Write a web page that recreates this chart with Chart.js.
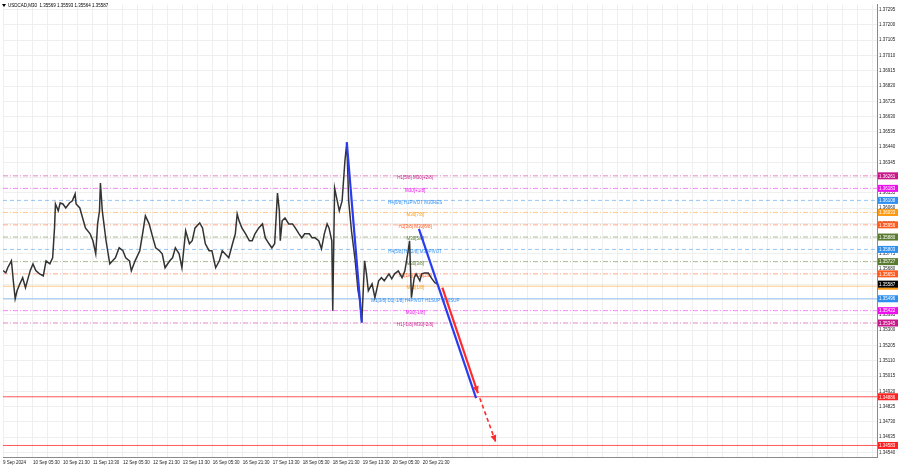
<!DOCTYPE html>
<html>
<head>
<meta charset="utf-8">
<title>USDCAD,M30</title>
<script src="https://cdn.jsdelivr.net/npm/chart.js@4.4.1/dist/chart.umd.min.js"></script>
<style>
    html, body { margin: 0; padding: 0; background: #fff; }
</style>
</head>
<body>
<canvas id="chart" width="900" height="468"></canvas>
<script>
// ============================================================
// DATA
// ============================================================

const symbolTitle = "USDCAD,M30  1.35569 1.35593 1.35564 1.35587";

// bar number (M30 bars from the left edge) and close price
const barIndex = [0, 3, 5, 9, 11, 13, 15, 18, 21, 24, 29, 32, 35, 39, 43, 46, 50, 53, 55, 56,
    59, 61, 64, 67, 71, 74, 77, 78, 82, 85, 88, 93, 96, 99, 101, 103, 104, 106, 110, 114,
    117, 120, 124, 128, 131, 135, 137, 141, 146, 149, 152, 156, 160, 163, 167, 170, 173, 178, 181, 184,
    188, 191, 195, 199, 202, 205, 210, 213, 216, 220, 223, 227, 231, 234, 237, 241, 245, 248, 250, 252,
    255, 259, 263, 266, 269, 273, 277, 280, 284, 287, 290, 293, 295, 296, 298, 301, 305, 309, 312, 316,
    319, 322, 327, 330, 333, 337, 340, 343, 346, 348, 351, 352, 354, 359, 362, 365, 367, 369, 372, 376,
    379, 381, 383, 386, 388, 390, 394, 397, 401, 404, 407, 412, 415, 418, 422, 426, 429, 432, 434, 436,
    439, 441, 445, 447, 450, 454, 457, 461, 464];

const closePrices = [1.35671, 1.35657, 1.35689, 1.35732, 1.35608, 1.35496, 1.35546, 1.35589, 1.35627, 1.35565,
    1.35671, 1.35713, 1.35671, 1.35651, 1.35639, 1.35732, 1.35713, 1.35751, 1.35937, 1.36086,
    1.36043, 1.36092, 1.36086, 1.36061, 1.36092, 1.36105, 1.36148, 1.36086, 1.36061, 1.35999,
    1.35937, 1.35900, 1.35857, 1.35776, 1.35962, 1.36043, 1.36216, 1.36043, 1.35857, 1.35713,
    1.35732, 1.35751, 1.35813, 1.35795, 1.35751, 1.35732, 1.35670, 1.35732, 1.35795, 1.35900,
    1.36012, 1.35962, 1.35875, 1.35813, 1.35795, 1.35776, 1.35689, 1.35732, 1.35751, 1.35813,
    1.35776, 1.35689, 1.35919, 1.35838, 1.35857, 1.35937, 1.35968, 1.35937, 1.35838, 1.35795,
    1.35795, 1.35689, 1.35732, 1.35795, 1.35776, 1.35751, 1.35838, 1.35900, 1.36024, 1.35981,
    1.35937, 1.35900, 1.35857, 1.35857, 1.35900, 1.35937, 1.35962, 1.35875, 1.35838, 1.35813,
    1.35838, 1.36154, 1.36043, 1.35857, 1.35981, 1.35999, 1.35962, 1.35962, 1.35937, 1.35900,
    1.35875, 1.35900, 1.35900, 1.35875, 1.35875, 1.35857, 1.35807, 1.35900, 1.35962, 1.35937,
    1.35857, 1.35422, 1.36185, 1.36043, 1.36105, 1.36353, 1.36470, 1.36105, 1.35919, 1.35732,
    1.35546, 1.35484, 1.35348, 1.35732, 1.35651, 1.35546, 1.35589, 1.35503, 1.35608, 1.35627,
    1.35608, 1.35651, 1.35620, 1.35651, 1.35670, 1.35627, 1.35670, 1.35776, 1.35857, 1.35503,
    1.35627, 1.35651, 1.35608, 1.35651, 1.35657, 1.35657, 1.35627, 1.35596, 1.35587];

// time axis
const timeTickBars = [0, 32, 64, 96, 128, 160, 192, 224, 256, 288, 320, 352, 384, 416, 448];
const timeTickLabels = ["9 Sep 2024", "10 Sep 05:30", "10 Sep 21:30", "11 Sep 13:30", "12 Sep 05:30",
    "12 Sep 21:30", "13 Sep 13:30", "16 Sep 05:30", "16 Sep 21:30", "17 Sep 13:30",
    "18 Sep 05:30", "18 Sep 21:30", "19 Sep 13:30", "20 Sep 05:30", "20 Sep 21:30"];

// price axis
const priceTicks = [1.34540, 1.34635, 1.34730, 1.34825, 1.34920, 1.35015, 1.35110, 1.35205, 1.35300, 1.35395,
    1.35490, 1.35585, 1.35680, 1.35775, 1.35870, 1.35965, 1.36060, 1.36155, 1.36250, 1.36345,
    1.36440, 1.36535, 1.36630, 1.36725, 1.36820, 1.36915, 1.37010, 1.37105, 1.37200, 1.37295];

// Murrey levels
const levelPrices = [1.36261, 1.36183, 1.36108, 1.36033, 1.35956, 1.35880, 1.35803,
    1.35727, 1.35651, 1.35574, 1.35496, 1.35422, 1.35345];
const levelNames = ["H1[5/8] M30[+2/8]", "M30[+1/8]", "H4[6/8] H1PIVOT M30RES", "M30[7/8]",
    "H1[3/8] M30[6/8]", "M30[5/8]", "H4[5/8] H1[2/8] M30PIVOT", "M30[3/8]",
    "H1[1/8] M30[2/8]", "M30[1/8]", "W1[3/8] D1[-1/8] H4PIVOT H1SUP M30SUP",
    "M30[-1/8]", "H1[-1/8] M30[-2/8]"];

const targetPrices = [1.34886, 1.34583];
const bidPrice = 1.35587;

// drawn trend / forecast lines
const swingBars = [367, 383];
const swingPrices = [1.36470, 1.35348];
const forecastBars = [444, 505];
const forecastPrices = [1.35931, 1.34877];
const targetLineBars = [469, 507];
const targetLinePrices = [1.35565, 1.34908];
const targetDashBars = [509, 526];
const targetDashPrices = [1.34877, 1.34604];

// ============================================================
// STYLE
// ============================================================

const levelColors = ["#c8178a", "#ee10ee", "#2f8fef", "#ff9a10", "#ff5a1e", "#5a7a30", "#2f8fef",
    "#5a7a30", "#ff5a1e", "#ff9a10", "#2f8fef", "#ee10ee", "#c8178a"];
const DASH_DOT = [5, 2, 1, 2];
const DASHED = [4, 3];
const levelDash = [DASH_DOT, DASH_DOT, DASHED, DASH_DOT, DASH_DOT, DASH_DOT, DASHED,
    DASH_DOT, DASH_DOT, [], [], DASH_DOT, DASH_DOT];

const X_MIN = 0, X_MAX = 933;
const Y_MIN = 1.345112, Y_MAX = 1.37326;
const LABEL_BAR = 440;      // where the level captions sit
const FONT = '"Liberation Sans", Arial, sans-serif';

function fade(hex, a) {
    const r = parseInt(hex.substr(1, 2), 16);
    const g = parseInt(hex.substr(3, 2), 16);
    const b = parseInt(hex.substr(5, 2), 16);
    return `rgba(${r}, ${g}, ${b}, ${a})`;
}

function pairs(bars, prices) {
    return bars.map((b, i) => ({ x: b, y: prices[i] }));
}

Chart.defaults.font.family = FONT;
Chart.defaults.font.size = 4.5;
Chart.defaults.color = "#222";

// ============================================================
// DATASETS  (index 0 is drawn on top)
// ============================================================

const datasets = [
    {
        label: "target dash",
        data: pairs(targetDashBars, targetDashPrices),
        borderColor: "#ff2a2a",
        borderWidth: 1.6,
        borderDash: [4, 3],
        arrow: true
    },
    {
        label: "target line",
        data: pairs(targetLineBars, targetLinePrices),
        borderColor: "#ff2a2a",
        borderWidth: 2.2,
        arrow: true
    },
    {
        label: "forecast",
        data: pairs(forecastBars, forecastPrices),
        borderColor: "#2a3cf0",
        borderWidth: 2.2
    },
    {
        label: "swing",
        data: pairs(swingBars, swingPrices),
        borderColor: "#2a3cf0",
        borderWidth: 2.2
    },
    {
        label: "price",
        data: pairs(barIndex, closePrices),
        borderColor: "#333333",
        borderWidth: 1.5,
        isPrice: true
    }
];

targetPrices.forEach(p => {
    datasets.push({
        label: "target " + p,
        data: [{ x: X_MIN, y: p }, { x: X_MAX, y: p }],
        borderColor: fade("#ff2020", 0.75),
        borderWidth: 1
    });
});

levelPrices.forEach((p, i) => {
    datasets.push({
        label: levelNames[i],
        data: [{ x: X_MIN, y: p }, { x: X_MAX, y: p }],
        borderColor: fade(levelColors[i], 0.5),
        borderDash: levelDash[i],
        borderWidth: 1
    });
});

// ============================================================
// OVERLAY: captions, arrows, price boxes, title
// ============================================================

const overlay = {
    id: "overlay",
    beforeDatasetDraw(chart, args) {
        const ds = chart.data.datasets[args.index];
        if (!ds.isPrice) return;
        const { ctx, scales: { x, y } } = chart;
        ctx.save();
        ctx.font = "4.5px " + FONT;
        ctx.textAlign = "center";
        ctx.textBaseline = "middle";
        levelPrices.forEach((p, i) => {
            ctx.fillStyle = levelColors[i];
            ctx.fillText(levelNames[i], x.getPixelForValue(LABEL_BAR), y.getPixelForValue(p) + 2);
        });
        ctx.restore();
    },
    afterDatasetsDraw(chart) {
        const ctx = chart.ctx;
        chart.data.datasets.forEach((ds, i) => {
            if (!ds.arrow) return;
            const pts = chart.getDatasetMeta(i).data;
            const a = pts[pts.length - 2], b = pts[pts.length - 1];
            const ang = Math.atan2(b.y - a.y, b.x - a.x);
            const L = 7, W = 3;
            ctx.save();
            ctx.beginPath();
            ctx.moveTo(b.x, b.y);
            ctx.lineTo(b.x - L * Math.cos(ang) + W * Math.sin(ang), b.y - L * Math.sin(ang) - W * Math.cos(ang));
            ctx.lineTo(b.x - L * Math.cos(ang) - W * Math.sin(ang), b.y - L * Math.sin(ang) + W * Math.cos(ang));
            ctx.closePath();
            ctx.fillStyle = ds.borderColor;
            ctx.fill();
            ctx.restore();
        });
    },
    afterDraw(chart) {
        const { ctx, chartArea: area, scales: { y } } = chart;
        ctx.save();
        ctx.font = "4.5px " + FONT;
        ctx.textBaseline = "middle";
        ctx.textAlign = "left";

        const box = (price, color) => {
            const py = y.getPixelForValue(price);
            ctx.fillStyle = color;
            ctx.fillRect(area.right + 1, py - 3.5, 20, 7);
            ctx.fillStyle = "#fff";
            ctx.fillText(price.toFixed(5), area.right + 2, py + 0.5);
        };
        levelPrices.forEach((p, i) => box(p, levelColors[i]));
        targetPrices.forEach(p => box(p, "#ff2020"));
        box(bidPrice, "#000");

        // title
        ctx.fillStyle = "#000";
        ctx.beginPath();
        ctx.moveTo(2, 4); ctx.lineTo(6, 4); ctx.lineTo(4, 7);
        ctx.closePath();
        ctx.fill();
        ctx.fillText(symbolTitle, 8, 6);
        ctx.restore();
    }
};

// ============================================================
// CHART
// ============================================================

new Chart(document.getElementById("chart").getContext("2d"), {
    type: "line",
    data: { datasets },
    options: {
        responsive: false,
        animation: false,
        events: [],
        layout: { padding: { top: 3, left: 0, right: 0, bottom: 0 } },
        elements: {
            point: { radius: 0 },
            line: { tension: 0, fill: false }
        },
        plugins: {
            legend: { display: false },
            tooltip: { enabled: false }
        },
        scales: {
            x: {
                type: "linear",
                min: X_MIN,
                max: X_MAX,
                afterBuildTicks: axis => {
                    const t = [];
                    for (let b = X_MIN; b <= X_MAX; b += 16) t.push({ value: b });
                    axis.ticks = t;
                },
                afterFit: axis => { axis.height = 11; },
                ticks: {
                    autoSkip: false,
                    maxRotation: 0,
                    align: "start",
                    padding: 3,
                    color: "#222",
                    callback: v => {
                        const i = timeTickBars.indexOf(v);
                        return i >= 0 ? timeTickLabels[i] : "";
                    }
                },
                grid: { color: "#efefef", drawTicks: false },
                border: { display: true, color: "#8a8a8a" }
            },
            y: {
                position: "right",
                min: Y_MIN,
                max: Y_MAX,
                afterBuildTicks: axis => {
                    axis.ticks = priceTicks.map(v => ({ value: v }));
                },
                afterFit: axis => { axis.width = 23; },
                ticks: {
                    autoSkip: false,
                    padding: 2,
                    color: "#222",
                    callback: v => Number(v).toFixed(5)
                },
                grid: { color: "#efefef", drawTicks: false },
                border: { display: true, color: "#8a8a8a" }
            }
        }
    },
    plugins: [overlay]
});
</script>
</body>
</html>
